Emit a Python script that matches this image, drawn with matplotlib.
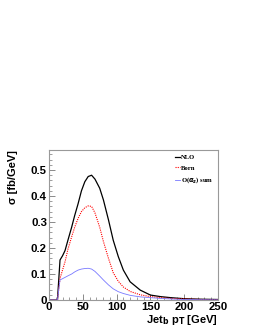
import numpy as np
import matplotlib.pyplot as plt

# Data
pt = [0, 5, 10, 12.5, 16.3, 20, 23.7, 28, 33.5, 38, 43, 48, 53, 58, 63, 68, 75, 80.5, 88, 95,
      102.5, 110, 120, 135, 150, 165, 180, 200, 225, 250]
nlo = [0, 0, 0, 0, 0.154, 0.17, 0.19, 0.23, 0.28, 0.325, 0.37, 0.42, 0.455, 0.475, 0.48, 0.465,
       0.43, 0.385, 0.308, 0.23, 0.167, 0.115, 0.07, 0.038, 0.019, 0.013, 0.009, 0.005, 0.003, 0.002]
born = [0, 0, 0, 0, 0.083, 0.115, 0.147, 0.195, 0.243, 0.28, 0.314, 0.34, 0.355, 0.362, 0.36, 0.335,
        0.28, 0.225, 0.16, 0.105, 0.072, 0.05, 0.033, 0.02, 0.013, 0.009, 0.006, 0.004, 0.002, 0.001]
oas = [0, 0, 0, 0, 0.077, 0.082, 0.087, 0.093, 0.1, 0.108, 0.115, 0.119, 0.121, 0.122, 0.119, 0.11,
       0.092, 0.077, 0.058, 0.043, 0.032, 0.025, 0.018, 0.012, 0.009, 0.006, 0.004, 0.002, 0.001, 0.0005]

plt.rcParams["font.family"] = "Liberation Sans"
plt.rcParams["font.weight"] = "bold"

fig = plt.figure(figsize=(2.55, 3.3), dpi=100)
ax = fig.add_axes([49 / 255, 1 - 300 / 330, 169 / 255, 150 / 330])

ax.plot(pt, nlo, color="black", lw=0.9, label="NLO")
ax.plot(pt, born, color="red", lw=0.8, ls=(0, (1, 1)), label="Born")
ax.plot(pt, oas, color="#7878ff", lw=0.6, label=r"O($\alpha_s$) sum")

ax.set_xlim(0, 250)
ax.set_ylim(0, 0.577)
ax.set_xticks([0, 50, 100, 150, 200, 250])
ax.set_xticks(np.arange(0, 251, 10), minor=True)
ax.set_yticks([0, 0.1, 0.2, 0.3, 0.4, 0.5])
ax.set_yticks(np.arange(0, 0.577, 0.02), minor=True)
ax.set_yticklabels(["0", "0.1", "0.2", "0.3", "0.4", "0.5"])
ax.tick_params(direction="in", labelsize=8.2, length=4, width=0.6, pad=1.5, color="#777777")
ax.tick_params(which="minor", direction="in", length=2, width=0.5, color="#777777")
for s in ax.spines.values():
    s.set_color("#999999")
    s.set_linewidth(0.8)

ax.set_xlabel("Jet$_\\mathbf{b}$ p$_\\mathbf{T}$ [GeV]", fontsize=8, fontweight="bold", loc="right", labelpad=1)
ax.set_ylabel("σ [fb/GeV]", fontsize=8, fontweight="bold", loc="top", labelpad=9)

leg = ax.legend(loc="upper right", frameon=False, handlelength=0.75, handletextpad=0.25,
                labelspacing=0.75, borderaxespad=0.25,
                prop={"family": "Liberation Serif", "weight": "bold", "size": 4.8})

fig.savefig("out.png", dpi=100)
